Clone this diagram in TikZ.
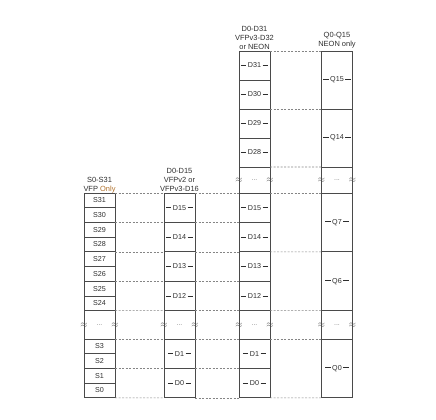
\documentclass[tikz,border=0pt]{standalone}
\usepackage{fontspec}
\setmainfont{Liberation Sans}
\usetikzlibrary{calc}
\definecolor{ln}{HTML}{4A4A4A}
\definecolor{dsh}{HTML}{858585}
\definecolor{txt}{HTML}{2E2E2E}
\definecolor{orng}{HTML}{B0702A}
\newcommand{\lbl}[1]{\rule[0.33em]{5.5pt}{0.4pt}\hspace{1.5pt}#1\hspace{1.5pt}\rule[0.33em]{5.5pt}{0.4pt}}
\newcommand{\brkzone}[3]{%
  \draw[ln, line width=0.7bp] (#2.south west) -- (#3.north west) (#2.south east) -- (#3.north east);
  \node[brkm] (#1l) at ($(#2.south west)!.5!(#3.north west)$) {$\approx$};
  \node[brkm] (#1r) at ($(#2.south east)!.5!(#3.north east)$) {$\approx$};
  \node[dotsm] (#1d) at ($(#2.south)!.5!(#3.north)$) {...};}
\begin{document}
\begin{tikzpicture}[x=1bp,y=-1bp,
  cell/.style={draw=ln, line width=0.7bp, anchor=north west, minimum width=31bp, inner sep=0pt, outer sep=0pt, font=\fontsize{7.2}{8}\selectfont, text=txt},
  scell/.style={cell, minimum height=14.7bp},
  dcell/.style={cell, minimum height=29.4bp},
  tcell/.style={cell, minimum height=29bp},
  qtcell/.style={cell, minimum height=58bp},
  qcell/.style={cell, minimum height=58.8bp},
  hdr/.style={anchor=south, align=center, inner sep=0pt, text=txt, font=\fontsize{7.5}{9}\selectfont},
  brkm/.style={inner sep=0pt, text=ln, font=\bfseries\fontsize{9}{9}\selectfont},
  dotsm/.style={inner sep=0pt, text=dsh, font=\fontsize{7}{7}\selectfont},
  dline/.style={draw=dsh, dash pattern=on 2bp off 1.5bp, line width=0.6bp}]
\useasboundingbox (0,0) rectangle (436,419);
% S column
\foreach \n [count=\i from 0] in {31,30,29,28,27,26,25,24}
  \node[scell] (s\n) at (84,193+14.7*\i) {S\n};
\foreach \n [count=\i from 0] in {3,2,1,0}
  \node[scell] (s\n) at (84,339+14.7*\i) {S\n};
% D0-D15 column
\foreach \n [count=\i from 0] in {15,14,13,12}
  \node[dcell] (ad\n) at (164,193+29.4*\i) {\lbl{D\n}};
\foreach \n [count=\i from 0] in {1,0}
  \node[dcell] (ad\n) at (164,339+29.4*\i) {\lbl{D\n}};
% D0-D31 column
\foreach \n [count=\i from 0] in {31,30,29,28}
  \node[tcell] (bd\n) at (239,51+29*\i) {\lbl{D\n}};
\foreach \n [count=\i from 0] in {15,14,13,12}
  \node[dcell] (bd\n) at (239,193+29.4*\i) {\lbl{D\n}};
\foreach \n [count=\i from 0] in {1,0}
  \node[dcell] (bd\n) at (239,339+29.4*\i) {\lbl{D\n}};
% Q column
\node[qtcell] (q15) at (321.5,51) {\lbl{Q15}};
\node[qtcell] (q14) at (321.5,109) {\lbl{Q14}};
\node[qcell] (q7) at (321.5,193) {\lbl{Q7}};
\node[qcell] (q6) at (321.5,251.8) {\lbl{Q6}};
\node[qcell] (q0) at (321.5,339) {\lbl{Q0}};
% headers
\node[hdr] (hs) at (99.5,193.5) {S0-S31\\VFP \textcolor{orng}{Only}};
\node[hdr] (ha) at (179.5,191.5) {D0-D15\\VFPv2 or\\VFPv3-D16};
\node[hdr] (hb) at (254.5,49.5) {D0-D31\\VFPv3-D32\\or NEON};
\node[hdr] (hq) at (337,48) {Q0-Q15\\NEON only};
% breaks
\brkzone{bs}{s24}{s3}
\brkzone{ba}{ad12}{ad1}
\brkzone{bb1}{bd28}{bd15}
\brkzone{bb2}{bd12}{bd1}
\brkzone{bq1}{q14}{q7}
\brkzone{bq2}{q6}{q0}
% dashed guides S - A
\draw[dline] (s31.north east) -- (ad15.north west);
\draw[dline] (s29.north east) -- (ad14.north west);
\draw[dline] (s27.north east) -- (ad13.north west);
\draw[dline] (s25.north east) -- (ad12.north west);
\draw[dline] (s24.south east) -- (ad12.south west);
\draw[dline] (s3.north east) -- (ad1.north west);
\draw[dline] (s1.north east) -- (ad0.north west);
\draw[dline] (s0.south east) -- (ad0.south west);
% dashed guides A - B
\foreach \n in {15,14,13,12,1,0}
  \draw[dline] (ad\n.north east) -- (bd\n.north west);
\draw[dline] (ad12.south east) -- (bd12.south west);
\draw[dline] (ad0.south east) -- (bd0.south west);
% dashed guides B - Q
\draw[dline] (bd31.north east) -- (q15.north west);
\draw[dline] (bd29.north east) -- (q14.north west);
\draw[dline] (bd28.south east) -- (q14.south west);
\draw[dline] (bd15.north east) -- (q7.north west);
\draw[dline] (bd13.north east) -- (q6.north west);
\draw[dline] (bd12.south east) -- (q6.south west);
\draw[dline] (bd1.north east) -- (q0.north west);
\draw[dline] (bd0.south east) -- (q0.south west);
\end{tikzpicture}
\end{document}
